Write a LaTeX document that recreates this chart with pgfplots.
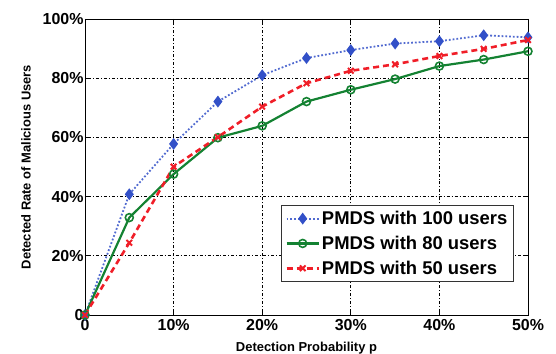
\documentclass[border=0pt]{standalone}
\usepackage{pgfplots}
\pgfplotsset{compat=1.18}
\usepackage{fontspec}
\setmainfont{Liberation Sans}
\definecolor{mblue}{RGB}{50,80,200}
\definecolor{mgreen}{RGB}{20,130,50}
\definecolor{mred}{RGB}{240,30,40}
\begin{document}
\begin{tikzpicture}[x=1bp,y=1bp]
\begin{axis}[
  name=ax,
  scale only axis,
  width=443bp, height=296bp,
  xmin=0, xmax=50, ymin=0, ymax=100,
  xtick={0,10,20,30,40,50},
  xticklabels={0,10\%,20\%,30\%,40\%,50\%},
  ytick={0,20,40,60,80,100},
  yticklabels={0,20\%,40\%,60\%,80\%,100\%},
  tick label style={font=\fontsize{16}{16}\selectfont\bfseries},
  yticklabel style={xshift=2bp},
  xticklabel style={yshift=-1bp},
  xlabel={Detection Probability p},
  ylabel={Detected Rate of Malicious Users},
  label style={font=\fontsize{13}{13}\selectfont\bfseries},
  xlabel style={yshift=-4bp},
  ylabel style={yshift=5bp},
  grid=major,
  major grid style={black, line width=0.8pt, dash pattern=on 1pt off 2pt on 3pt off 2pt},
  axis line style={line width=0.9pt},
  tick style={black, line width=0.8pt},
  major tick length=4bp,
  tick align=inside,
  legend style={at={(0.968,0.111)}, anchor=south east, draw=black!80, line width=0.9pt,
    font=\fontsize{18.5}{22}\selectfont\bfseries, row sep=6bp, inner sep=4bp},
  legend cell align=left,
  legend image code/.code={\draw[mark repeat=2,mark phase=2] plot coordinates {(0bp,0bp) (16bp,0bp) (32bp,0bp)};},
]
\addplot[mblue!85, line width=1.8pt, dotted, mark=diamond*, mark size=4.5pt, mark options={solid, draw=mblue, fill=mblue}]
coordinates {(0,0) (5,40.8) (10,57.8) (15,72.1) (20,81.0) (25,86.8) (30,89.5) (35,91.7) (40,92.5) (45,94.5) (50,93.8)};
\addlegendentry{PMDS with 100 users}
\addplot[mgreen, line width=2.2pt, mark=o, mark size=4pt, mark options={solid, line width=1.6pt}]
coordinates {(0,0) (5,32.9) (10,47.6) (15,59.9) (20,63.9) (25,72.1) (30,76.1) (35,79.7) (40,84.1) (45,86.3) (50,89.1)};
\addlegendentry{PMDS with 80 users}
\addplot[mred, line width=2.6pt, dash pattern=on 6pt off 4pt, mark=x, mark size=4pt, mark options={solid, line width=2pt}]
coordinates {(0,0) (5,24.4) (10,50.1) (15,60.1) (20,70.4) (25,78.3) (30,82.5) (35,84.7) (40,87.5) (45,89.9) (50,92.9)};
\addlegendentry{PMDS with 50 users}
\end{axis}
\pgfresetboundingbox
\path ([shift={(-85bp,-39bp)}]ax.south west) rectangle ([shift={(28bp,19bp)}]ax.north east);
\end{tikzpicture}
\end{document}
